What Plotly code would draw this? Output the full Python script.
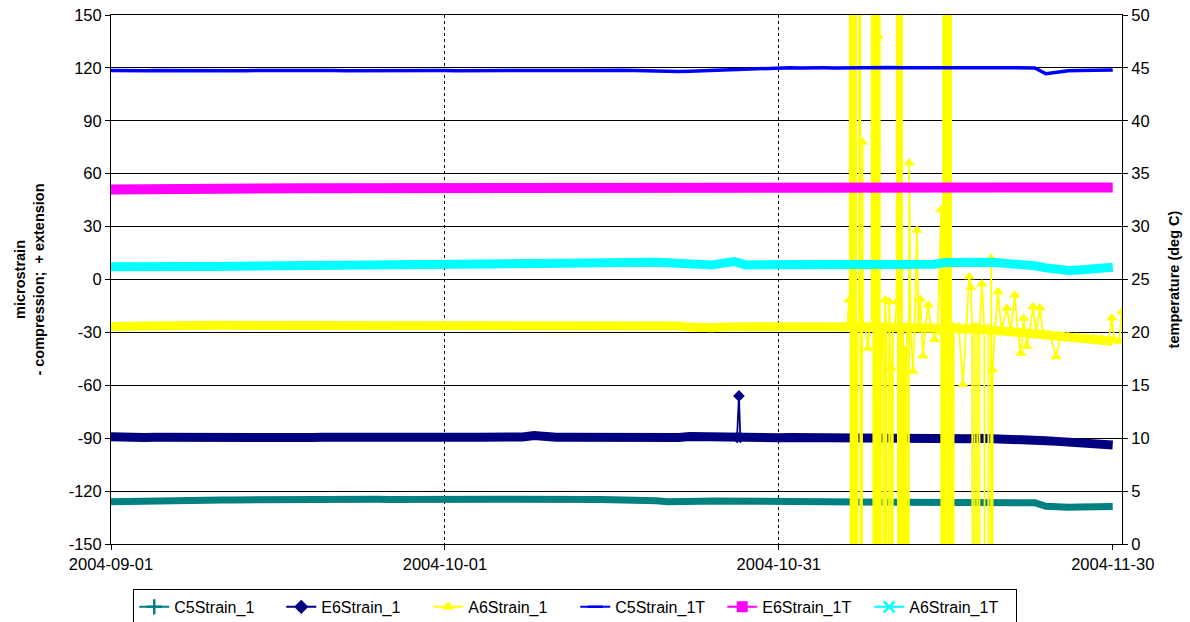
import plotly.graph_objects as go
import pandas as pd

# ---------------- data ----------------
day_start = "2004-09-01"
n_days = 91
days = pd.date_range(day_start, periods=n_days, freq="D")

x_ticks = ["2004-09-01", "2004-10-01", "2004-10-31", "2004-11-30"]
x_tick_labels = ["2004-09-01", "2004-10-01", "2004-10-31", "2004-11-30"]
x_grid = ["2004-10-01", "2004-10-31"]
x_end = "2004-11-30 20:00"

y_ticks = [-150, -120, -90, -60, -30, 0, 30, 60, 90, 120, 150]
y_tick_labels = ["-150", "-120", "-90", "-60", "-30", "0", "30", "60", "90", "120", "150"]

# left axis (microstrain), daily readings
C5Strain_1 = [
    -126.0, -125.8, -125.6, -125.5, -125.4, -125.3, -125.2, -125.2, -125.1, -125.0,
    -125.0, -125.0, -124.9, -125.0, -124.9, -124.8, -124.9, -124.8, -124.8, -124.7,
    -124.8, -124.7, -124.7, -124.6, -124.6, -124.7, -124.6, -124.6, -124.5, -124.6,
    -124.6, -124.5, -124.6, -124.6, -124.5, -124.6, -124.6, -124.5, -124.6, -124.7,
    -124.6, -124.7, -124.7, -124.8, -124.8, -124.9, -124.9, -125.0, -125.1, -125.5,
    -126.0, -125.6, -125.6, -125.7, -125.6, -125.7, -125.7, -125.8, -125.8, -125.9,
    -125.9, -126.0, -126.0, -126.1, -126.1, -126.1, -126.2, -126.2, -126.2, -126.3,
    -126.3, -126.3, -126.3, -126.3, -126.4, -126.3, -126.3, -126.4, -126.3, -126.4,
    -126.4, -126.4, -126.5, -126.6, -128.6, -129.3, -129.1, -129.0, -128.9, -128.9,
    -128.8,
]

E6Strain_1 = [
    -89.2, -89.6, -89.5, -89.6, -89.5, -89.6, -89.7, -89.5, -89.6, -89.5,
    -89.6, -89.5, -89.6, -89.7, -89.5, -89.6, -89.5, -89.6, -89.6, -89.5,
    -89.6, -89.5, -89.6, -89.5, -89.6, -89.8, -89.5, -89.4, -89.5, -89.4,
    -89.5, -89.4, -89.5, -89.4, -89.5, -89.4, -89.5, -89.3, -88.5, -89.3,
    -89.5, -89.4, -89.5, -89.4, -89.6, -90.0, -89.5, -89.4, -89.5, -89.4,
    -89.5, -89.6, -89.1, -89.3, -89.5, -89.5, -89.5, -89.6, -89.7, -89.6,
    -89.7, -89.6, -89.7, -89.7, -89.8, -89.7, -89.8, -89.8, -89.9, -89.8,
    -89.9, -89.9, -90.0, -89.9, -90.0, -90.0, -90.1, -90.3, -90.0, -90.1,
    -90.0, -90.3, -90.6, -91.0, -91.4, -91.8, -92.2, -92.6, -93.0, -93.4,
    -93.8,
]
# short-lived jump in E6Strain_1
E6_spike_times = ["2004-10-27 06:00", "2004-10-27 10:00", "2004-10-27 13:00"]
E6_spike_vals = [-89.5, -66.0, -89.5]

A6Strain_1 = [
    -26.7, -26.5, -26.4, -26.4, -26.3, -26.2, -26.2, -26.1, -26.1, -26.0,
    -26.0, -26.0, -25.9, -25.9, -25.8, -25.8, -25.7, -25.4, -25.4, -25.3,
    -25.4, -25.3, -25.4, -25.3, -25.4, -25.4, -25.3, -25.4, -25.3, -25.4,
    -25.3, -25.4, -25.4, -25.3, -25.4, -25.4, -25.5, -25.4, -25.5, -25.5,
    -25.5, -25.6, -25.6, -25.7, -25.7, -25.8, -25.8, -25.8, -25.9, -25.9,
    -26.0, -26.3, -27.0, -27.5, -27.3, -27.0, -26.4, -26.8, -26.8, -26.7,
    -26.8, -26.8, -26.7, -26.8, -26.8, -26.9, -27.0, -27.0, -27.0, -27.1,
    -27.1, -27.2, -27.2, -27.3, -27.4, -27.5, -27.6, -27.8, -28.2, -28.6,
    -29.2, -29.8, -30.3, -30.8, -31.3, -31.8, -32.3, -32.8, -33.3, -33.8,
    -35.0,
]
# erratic November readings of A6Strain_1 (+-999 = off-scale)
A6_nov_times = [
    "2004-11-05 12:00", "2004-11-06 04:00", "2004-11-06 07:30", "2004-11-06 09:00",
    "2004-11-06 10:00", "2004-11-06 11:30", "2004-11-06 13:00", "2004-11-06 14:30",
    "2004-11-06 16:00", "2004-11-06 17:30", "2004-11-06 19:00", "2004-11-06 20:30",
    "2004-11-06 22:00", "2004-11-06 23:30", "2004-11-07 02:00", "2004-11-07 05:00",
    "2004-11-07 07:00", "2004-11-07 08:30", "2004-11-07 12:00", "2004-11-07 13:30",
    "2004-11-07 18:00", "2004-11-08 00:00", "2004-11-08 04:00", "2004-11-08 08:00",
    "2004-11-08 11:00", "2004-11-08 12:30", "2004-11-08 14:00", "2004-11-08 15:30",
    "2004-11-08 17:00", "2004-11-08 18:30", "2004-11-08 20:00", "2004-11-08 21:30",
    "2004-11-08 22:30", "2004-11-08 23:30", "2004-11-09 01:00", "2004-11-09 02:30",
    "2004-11-09 04:00", "2004-11-09 07:00", "2004-11-09 09:00", "2004-11-09 11:00",
    "2004-11-09 13:00", "2004-11-09 16:00", "2004-11-09 19:30", "2004-11-09 22:00",
    "2004-11-10 02:00", "2004-11-10 04:00", "2004-11-10 06:00", "2004-11-10 10:00",
    "2004-11-10 14:00", "2004-11-10 16:00", "2004-11-10 17:30", "2004-11-10 19:00",
    "2004-11-10 20:30", "2004-11-10 22:00", "2004-11-10 23:30", "2004-11-11 01:00",
    "2004-11-11 02:30", "2004-11-11 04:00", "2004-11-11 06:00", "2004-11-11 08:00",
    "2004-11-11 10:00", "2004-11-11 12:00", "2004-11-11 14:00", "2004-11-11 17:00",
    "2004-11-11 20:00", "2004-11-12 01:30", "2004-11-12 05:00", "2004-11-12 10:00",
    "2004-11-12 13:00", "2004-11-12 17:00", "2004-11-12 23:00", "2004-11-13 04:00",
    "2004-11-13 10:00", "2004-11-13 16:00", "2004-11-14 00:00", "2004-11-14 07:00",
    "2004-11-14 14:00", "2004-11-14 16:00", "2004-11-14 18:00", "2004-11-14 20:00",
    "2004-11-14 21:30", "2004-11-14 23:00", "2004-11-15 00:30", "2004-11-15 02:00",
    "2004-11-15 03:30", "2004-11-15 05:00", "2004-11-15 06:30", "2004-11-15 08:00",
    "2004-11-15 09:30", "2004-11-15 11:00", "2004-11-15 12:30", "2004-11-15 14:00",
    "2004-11-15 15:00", "2004-11-15 17:00", "2004-11-16 04:00", "2004-11-16 13:00",
    "2004-11-16 20:00", "2004-11-17 02:30", "2004-11-17 06:00", "2004-11-17 09:00",
    "2004-11-17 11:00", "2004-11-17 14:00", "2004-11-17 17:00", "2004-11-17 20:00",
    "2004-11-17 22:00", "2004-11-18 01:00", "2004-11-18 06:00", "2004-11-18 11:00",
    "2004-11-18 17:00", "2004-11-18 20:00", "2004-11-18 23:00", "2004-11-19 02:00",
    "2004-11-19 03:30", "2004-11-19 05:00", "2004-11-19 10:00", "2004-11-19 17:00",
    "2004-11-20 00:00", "2004-11-20 12:00", "2004-11-20 20:00", "2004-11-21 05:00",
    "2004-11-21 11:00", "2004-11-21 18:00", "2004-11-22 00:00", "2004-11-22 07:00",
    "2004-11-22 13:00", "2004-11-22 20:00", "2004-11-23 03:00", "2004-11-23 11:00",
    "2004-11-23 18:00", "2004-11-24 08:00", "2004-11-24 22:00", "2004-11-25 08:00",
    "2004-11-26 00:00", "2004-11-26 18:00", "2004-11-27 12:00", "2004-11-28 06:00",
    "2004-11-29 00:00", "2004-11-29 16:00", "2004-11-29 22:00", "2004-11-30 04:00",
    "2004-11-30 14:00", "2004-11-30 20:00",
]
A6_nov_vals = [
    -26.9, -27.0, -11.6, -27.0,
    999, -999, 999, -999,
    999, -999, 999, -999,
    999, -999, -27.0, -27.0,
    999, -999, 78.0, -27.0,
    -27.0, -39.0, -27.0, -27.0,
    999, -999, 999, -999,
    999, -999, 999, -999,
    138.0, -999, 999, -999,
    -27.0, -44.5, -27.0, -999,
    -11.6, -27.0, -999, -12.6,
    -50.0, -999, -27.0, -27.0,
    -12.6, 999, -999, 999,
    -999, 999, -999, 999,
    -999, -27.0, -999, -40.0,
    -999, -27.0, -999, 66.0,
    -27.0, -52.0, -27.0, 28.0,
    -27.0, -11.2, -43.4, -27.0,
    -14.5, -27.0, -34.0, -27.0,
    39.5, -999, -30.0, 999,
    -999, 999, -999, 999,
    -999, 999, -999, 999,
    -999, 999, -999, -27.0,
    -999, -27.0, -27.0, -59.5,
    -27.0, 1.5, -4.6, -27.0,
    -999, -27.0, -999, -27.0,
    -999, -27.5, -2.5, -27.5,
    -999, -27.5, -999, 12.0,
    -999, -51.3, -28.3, -7.0,
    -28.6, -16.3, -29.0, -8.8,
    -29.5, -41.8, -22.0, -38.0,
    -30.0, -15.4, -30.3, -16.0,
    -30.8, -31.0, -43.8, -31.8,
    -32.3, -32.8, -33.0, -33.3,
    -33.6, -34.0, -21.9, -34.5,
    -35.0, -18.3,
]

# right axis (temperature, deg C), daily readings
C5Strain_1T = [
    44.75, 44.72, 44.75, 44.74, 44.76, 44.75, 44.73, 44.75, 44.76, 44.74,
    44.75, 44.75, 44.73, 44.75, 44.76, 44.74, 44.75, 44.75, 44.73, 44.75,
    44.76, 44.74, 44.75, 44.75, 44.73, 44.76, 44.75, 44.74, 44.76, 44.75,
    44.75, 44.74, 44.76, 44.75, 44.78, 44.74, 44.76, 44.75, 44.77, 44.75,
    44.78, 44.76, 44.75, 44.77, 44.75, 44.76, 44.78, 44.75, 44.72, 44.68,
    44.65, 44.66, 44.68, 44.72, 44.76, 44.80, 44.85, 44.90, 44.95, 44.98,
    45.00, 45.02, 45.00, 45.03, 45.01, 45.00, 45.02, 45.01, 45.00, 45.02,
    45.03, 45.01, 45.02, 45.00, 45.01, 45.03, 45.02, 45.01, 45.00, 45.02,
    45.01, 45.00, 45.01, 45.00, 44.45, 44.60, 44.72, 44.75, 44.78, 44.80,
    44.80,
]

E6Strain_1T = [
    33.50, 33.52, 33.53, 33.54, 33.54, 33.55, 33.56, 33.56, 33.57, 33.57,
    33.58, 33.58, 33.59, 33.59, 33.60, 33.60, 33.60, 33.62, 33.62, 33.62,
    33.62, 33.63, 33.62, 33.62, 33.63, 33.62, 33.63, 33.62, 33.63, 33.63,
    33.62, 33.63, 33.63, 33.62, 33.64, 33.65, 33.66, 33.68, 33.70, 33.70,
    33.71, 33.70, 33.71, 33.70, 33.70, 33.71, 33.70, 33.71, 33.70, 33.69,
    33.70, 33.69, 33.68, 33.69, 33.70, 33.69, 33.70, 33.69, 33.70, 33.70,
    33.69, 33.70, 33.70, 33.69, 33.68, 33.69, 33.70, 33.69, 33.70, 33.69,
    33.68, 33.69, 33.70, 33.69, 33.70, 33.69, 33.69, 33.70, 33.69, 33.70,
    33.69, 33.70, 33.69, 33.70, 33.70, 33.69, 33.70, 33.69, 33.70, 33.69,
    33.70,
]

A6Strain_1T = [
    26.20, 26.18, 26.20, 26.22, 26.21, 26.20, 26.22, 26.23, 26.22, 26.24,
    26.25, 26.24, 26.26, 26.27, 26.28, 26.30, 26.32, 26.48, 26.50, 26.51,
    26.50, 26.52, 26.51, 26.53, 26.52, 26.53, 26.54, 26.53, 26.55, 26.54,
    26.55, 26.56, 26.55, 26.56, 26.57, 26.56, 26.58, 26.59, 26.60, 26.62,
    26.63, 26.64, 26.65, 26.66, 26.67, 26.68, 26.70, 26.66, 26.64, 26.62,
    26.58, 26.55, 26.45, 26.32, 26.38, 26.55, 26.70, 26.38, 26.38, 26.38,
    26.37, 26.38, 26.38, 26.37, 26.38, 26.38, 26.37, 26.38, 26.40, 26.38,
    26.40, 26.42, 26.40, 26.42, 26.45, 26.60, 26.65, 26.70, 26.65, 26.62,
    26.55, 26.50, 26.45, 26.30, 26.10, 25.95, 25.85, 25.90, 26.00, 26.10,
    26.15,
]

# ---------------- styling ----------------
FONT = "Liberation Sans, Arial, sans-serif"
TICK_SIZE = 16.5
col = {
    "C5Strain_1": "#008080",
    "E6Strain_1": "#000080",
    "A6Strain_1": "#FFFF00",
    "C5Strain_1T": "#0000FF",
    "E6Strain_1T": "#FF00FF",
    "A6Strain_1T": "#00FFFF",
}
legend_symbols = {
    "C5Strain_1": "cross-thin",
    "E6Strain_1": "diamond",
    "A6Strain_1": "triangle-up",
    "C5Strain_1T": "line-ew",
    "E6Strain_1T": "square",
    "A6Strain_1T": "x-thin",
}
band_width = {
    "C5Strain_1": 7, "E6Strain_1": 9, "A6Strain_1": 9,
    "C5Strain_1T": 3.5, "E6Strain_1T": 10, "A6Strain_1T": 9,
}

fig = go.Figure()

left_series = [("C5Strain_1", C5Strain_1), ("E6Strain_1", E6Strain_1), ("A6Strain_1", A6Strain_1)]
right_series = [("C5Strain_1T", C5Strain_1T), ("E6Strain_1T", E6Strain_1T), ("A6Strain_1T", A6Strain_1T)]

for name, vals in left_series:
    fig.add_trace(go.Scatter(
        x=days, y=vals, mode="lines", name=name, showlegend=False,
        line=dict(color=col[name], width=band_width[name]), yaxis="y", hoverinfo="skip"))
    if name == "E6Strain_1":
        fig.add_trace(go.Scatter(
            x=E6_spike_times, y=E6_spike_vals, mode="lines+markers", showlegend=False,
            line=dict(color=col[name], width=1.8),
            marker=dict(symbol="diamond", size=9, color=col[name]), yaxis="y"))
    if name == "A6Strain_1":
        fig.add_trace(go.Scatter(
            x=A6_nov_times, y=A6_nov_vals, mode="lines+markers", showlegend=False,
            line=dict(color=col[name], width=1.8),
            marker=dict(symbol="triangle-up", size=10, color=col[name]), yaxis="y"))

for name, vals in right_series:
    fig.add_trace(go.Scatter(
        x=days, y=vals, mode="lines", name=name, showlegend=False,
        line=dict(color=col[name], width=band_width[name]), yaxis="y2", hoverinfo="skip"))

# legend keys
for name, _ in left_series + right_series:
    thin = legend_symbols[name] in ("cross-thin", "x-thin", "line-ew")
    fig.add_trace(go.Scatter(
        x=[None], y=[None], mode="lines+markers", name=name,
        line=dict(color=col[name], width=2),
        marker=dict(symbol=legend_symbols[name], size=11, color=col[name],
                    line=dict(color=col[name], width=2.5 if thin else 0)),
        yaxis="y" if not name.endswith("T") else "y2"))

fig.update_layout(
    width=1190, height=622,
    margin=dict(l=111, r=68, t=15, b=78, autoexpand=False),
    paper_bgcolor="white", plot_bgcolor="white",
    font=dict(family=FONT, size=TICK_SIZE, color="black"),
    showlegend=True,
    legend=dict(
        orientation="h", x=0.022, xanchor="left", y=-0.085, yanchor="top",
        bordercolor="black", borderwidth=1, bgcolor="white",
        font=dict(family=FONT, size=16), entrywidth=102, entrywidthmode="pixels",
        itemwidth=30, tracegroupgap=0),
    xaxis=dict(
        type="date", range=[day_start, x_end], automargin=False,
        tickmode="array", tickvals=x_ticks, ticktext=x_tick_labels,
        showgrid=False, ticklabeloverflow="allow",
        minor=dict(tickmode="array", tickvals=x_grid, showgrid=True,
                   gridcolor="black", griddash="dot", gridwidth=1, ticks=""),
        showline=True, linecolor="black", linewidth=1, mirror=True,
        ticks="outside", ticklen=5, tickcolor="black",
        tickfont=dict(family=FONT, size=TICK_SIZE), zeroline=False),
    yaxis=dict(
        range=[-150, 150], automargin=False,
        tickmode="array", tickvals=y_ticks, ticktext=y_tick_labels,
        ticklabeloverflow="allow",
        showgrid=True, gridcolor="black", gridwidth=1,
        showline=True, linecolor="black", linewidth=1,
        ticks="outside", ticklen=5, tickcolor="black",
        zeroline=False, tickfont=dict(family=FONT, size=TICK_SIZE),
        title=dict(text="<b>microstrain<br>- compression;&nbsp; + extension</b>",
                   font=dict(family=FONT, size=14.5), standoff=20)),
    yaxis2=dict(
        range=[0, 50], tick0=0, dtick=5, overlaying="y", side="right", automargin=False,
        ticklabeloverflow="allow",
        showgrid=False, showline=True, linecolor="black", linewidth=1,
        ticks="outside", ticklen=5, tickcolor="black", zeroline=False,
        tickfont=dict(family=FONT, size=TICK_SIZE),
        title=dict(text="<b>temperature (deg C)</b>",
                   font=dict(family=FONT, size=14.5), standoff=20)),
)

# remove the browser's default 8px page margin so the figure fills the window
fig.write_html("out.html", config={"displayModeBar": False},
               post_script="document.body.style.margin='0px';")
